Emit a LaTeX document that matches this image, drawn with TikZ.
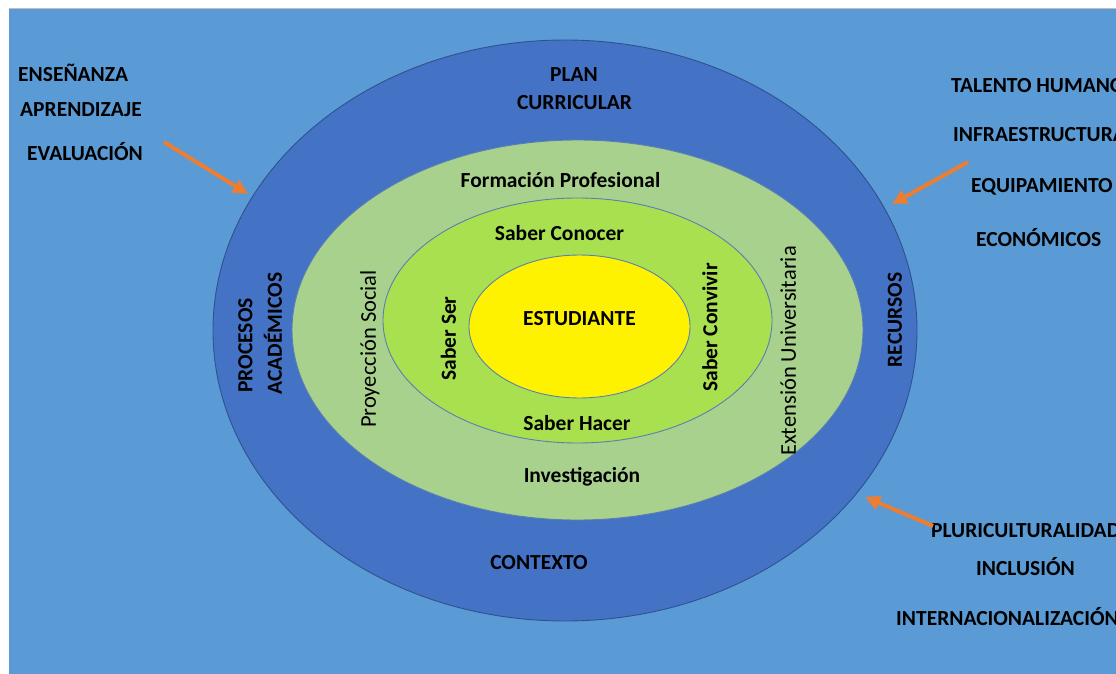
\documentclass[tikz,border=0pt]{standalone}
\usepackage{fontspec}
\setmainfont{Carlito}
\usetikzlibrary{shapes.geometric,arrows.meta}
\definecolor{bgblue}{HTML}{5B9BD5}
\definecolor{ringblue}{HTML}{4472C4}
\definecolor{ringedge}{HTML}{2F528F}
\definecolor{lightgreen}{HTML}{A9D18E}
\definecolor{midgreen}{HTML}{A8E050}
\definecolor{innerline}{HTML}{5A7FB2}
\definecolor{arroworange}{HTML}{ED7D31}
\tikzset{
  ring/.style={ellipse, inner sep=0pt, outer sep=0pt, line width=0.9pt},
  lbl/.style={inner sep=0pt, anchor=base, font=\fontsize{21.5}{26}\selectfont\bfseries, text=black},
  lblr/.style={inner sep=0pt, anchor=base, font=\fontsize{22.5}{27}\selectfont, text=black},
  sidelbl/.style={inner sep=0pt, anchor=base west, font=\fontsize{21.5}{26}\selectfont\bfseries, text=black},
  orangearrow/.style={draw=arroworange, line width=4pt, -{Triangle[length=15pt,width=14pt]}},
}
\begin{document}
\begin{tikzpicture}[x=1pt,y=-1pt]
\useasboundingbox (0,0) rectangle (1116,674);
\clip (0,0) rectangle (1116,674);
\fill[white] (0,0) rectangle (1116,674);
\fill[bgblue] (9,9) rectangle (1116,674);
\draw[gray!50, line width=0.8pt] (9,8.6) -- (1116,8.6);

% rings
\node[ring, draw=ringedge, fill=ringblue, minimum width=704pt, minimum height=581pt] (outer) at (565,330.5) {};
\node[ring, draw=innerline, fill=lightgreen, minimum width=571pt, minimum height=380pt] (prof) at (577.5,330) {};
\node[ring, draw=innerline, fill=midgreen, minimum width=389pt, minimum height=245pt] (saber) at (577.5,320.5) {};
\node[ring, draw=innerline, fill=yellow, minimum width=221pt, minimum height=143pt] (est) at (579.5,326.5) {};

% horizontal labels inside
\node[lbl] (plan) at (574,81.8) {PLAN};
\node[lbl] (curr) at (574.5,109.8) {CURRICULAR};
\node[lbl] (form) at (560.5,187.8) {Formación Profesional};
\node[lbl] (conocer) at (559.5,240.3) {Saber Conocer};
\node[lbl] (estud) at (579.5,325.3) {ESTUDIANTE};
\node[lbl] (hacer) at (577,430.8) {Saber Hacer};
\node[lbl] (invest) at (582,482.8) {Investigación};
\node[lbl] (contexto) at (539,569.8) {CONTEXTO};

% rotated labels
\node[lbl, rotate=90] (procesos) at (252.3,345.5) {PROCESOS};
\node[lbl, rotate=90] (academicos) at (281.8,333.5) {ACADÉMICOS};
\node[lblr, rotate=90] (proyeccion) at (375.8,349) {Proyección Social};
\node[lbl, rotate=90] (ser) at (455.8,338.5) {Saber Ser};
\node[lbl, rotate=90] (convivir) at (717.3,327.5) {Saber Convivir};
\node[lblr, rotate=90] (extension) at (795.8,351) {Extensión Universitaria};
\node[lbl, rotate=90] (recursos) at (901.8,320) {RECURSOS};

% side lists
\node[sidelbl] (ense) at (18,81.8) {ENSEÑANZA};
\node[sidelbl] (apre) at (20,116.8) {APRENDIZAJE};
\node[sidelbl] (eval) at (27,160.8) {EVALUACIÓN};

\node[sidelbl] (talento) at (951,92.8) {TALENTO HUMANO};
\node[sidelbl] (infra) at (953,141.8) {INFRAESTRUCTURA};
\node[sidelbl] (equip) at (971,192.8) {EQUIPAMIENTO};
\node[sidelbl] (econ) at (976,246.8) {ECONÓMICOS};

\node[sidelbl] (pluri) at (931,537.8) {PLURICULTURALIDAD};
\node[sidelbl] (inclu) at (976,575.8) {INCLUSIÓN};
\node[sidelbl] (inter) at (896,625.8) {INTERNACIONALIZACIÓN};

% arrows
\coordinate (a1s) at (164,142);
\coordinate (a1e) at (248,194);
\coordinate (a2s) at (968,162);
\coordinate (a2e) at (892,204);
\coordinate (a3s) at (933,526);
\coordinate (a3e) at (865,497);
\draw[orangearrow] (a1s) -- (a1e);
\draw[orangearrow] (a2s) -- (a2e);
\draw[orangearrow] (a3s) -- (a3e);
\end{tikzpicture}
\end{document}
